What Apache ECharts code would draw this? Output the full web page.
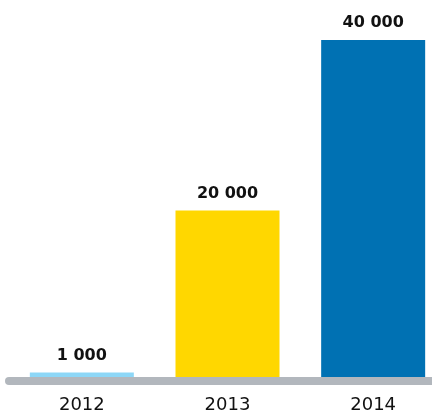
<!DOCTYPE html>
<html>
<head>
<meta charset="utf-8">
<script src="https://cdn.jsdelivr.net/npm/echarts@6/dist/echarts.min.js"></script>
<style>
  html, body { margin: 0; padding: 0; background: #fff; overflow: hidden; }
  /* chart is a bit wider than the window: the last bar's band runs off the right edge */
  #chart { width: 446px; height: 414px; }
</style>
</head>
<body>
<div id="chart"></div>
<script>
const years = ['2012', '2013', '2014']
const values = [1000, 20000, 40000]
const barColors = ['#8dd7f7', '#ffd700', '#0071b3']

const fmt = v => String(v).replace(/\B(?=(\d{3})+(?!\d))/g, ' ')

const chart = echarts.init(document.getElementById('chart'))
chart.setOption({
  animation: false,
  grid: { left: 9, right: 0, top: 40, bottom: 31 },
  xAxis: {
    type: 'category',
    data: years,
    z: 5,
    axisLine: { lineStyle: { color: '#b2b7bd', width: 8, cap: 'round' } },
    axisTick: { show: false },
    axisLabel: {
      margin: 15,
      color: '#111',
      fontFamily: 'DejaVu Sans',
      fontSize: 18
    }
  },
  yAxis: {
    type: 'value',
    min: 0,
    max: 40000,
    show: false,
    splitLine: { show: false }
  },
  series: [{
    type: 'bar',
    barWidth: 104,
    data: values.map((v, i) => ({ value: v, itemStyle: { color: barColors[i] } })),
    label: {
      show: true,
      position: 'top',
      distance: 9,
      color: '#111',
      fontFamily: 'DejaVu Sans',
      fontWeight: 'bold',
      fontSize: 16,
      formatter: p => fmt(p.value)
    }
  }]
})
</script>
</body>
</html>
